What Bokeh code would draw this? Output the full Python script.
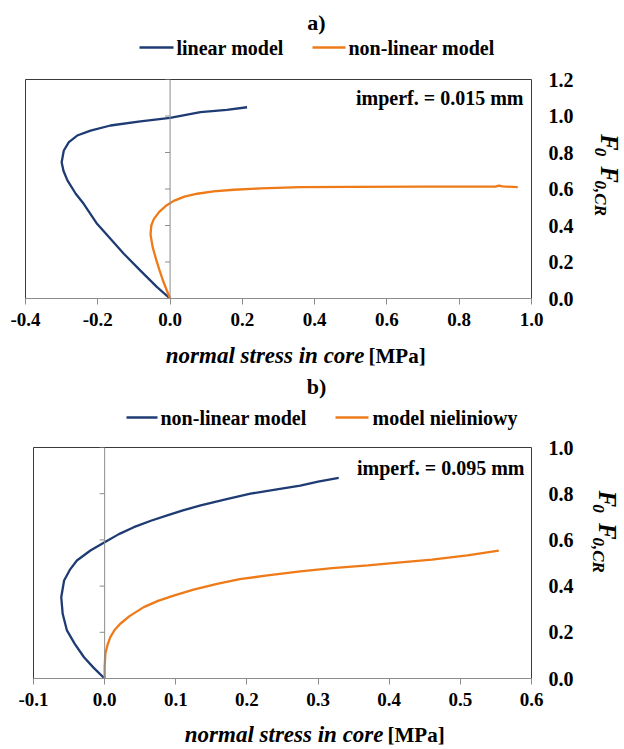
from math import pi
from bokeh.plotting import figure
from bokeh.models import Range1d, FixedTicker, NumeralTickFormatter, Span, Label
from bokeh.core.properties import value
from bokeh.layouts import column, row
from bokeh.embed import file_html
from bokeh.resources import INLINE

# ---------------- data ----------------
# panel a (imperf. = 0.015 mm)
a_lin_x = [0.0, -0.036, -0.082, -0.128, -0.165, -0.202, -0.239, -0.261, -0.284, -0.295, -0.300,
           -0.294, -0.280, -0.257, -0.220, -0.165, -0.082, 0.0, 0.084, 0.157, 0.213]
a_lin_y = [0.0, 0.062, 0.153, 0.245, 0.327, 0.409, 0.519, 0.574, 0.647, 0.700, 0.747,
           0.811, 0.857, 0.893, 0.920, 0.948, 0.970, 0.990, 1.021, 1.034, 1.048]
a_nl_x = [0.0, -0.009, -0.02, -0.03, -0.038, -0.048, -0.054, -0.052, -0.045, -0.03, -0.01, 0.01,
          0.04, 0.075, 0.12, 0.176, 0.25, 0.361, 0.5, 0.7, 0.9, 0.91, 0.92, 0.962]
a_nl_y = [0.0, 0.044, 0.1, 0.16, 0.21, 0.28, 0.35, 0.4, 0.435, 0.475, 0.51, 0.535,
          0.558, 0.574, 0.587, 0.596, 0.603, 0.61, 0.612, 0.613, 0.613, 0.619, 0.614, 0.61]
a_xticks = [-0.4, -0.2, 0.0, 0.2, 0.4, 0.6, 0.8, 1.0]
a_yticks = [0.0, 0.2, 0.4, 0.6, 0.8, 1.0, 1.2]
a_names = ["linear model", "non-linear model"]

# panel b (imperf. = 0.095 mm)
b_lin_x = [0.0, -0.015, -0.029, -0.042, -0.053, -0.059, -0.061, -0.057, -0.049, -0.039, -0.02, 0.0,
           0.02, 0.041, 0.065, 0.088, 0.11, 0.135, 0.17, 0.205, 0.24, 0.275, 0.3, 0.329]
b_lin_y = [0.0, 0.045, 0.092, 0.15, 0.208, 0.28, 0.352, 0.424, 0.47, 0.511, 0.554, 0.59,
           0.625, 0.655, 0.683, 0.706, 0.728, 0.749, 0.775, 0.8, 0.818, 0.835, 0.852, 0.869]
b_nl_x = [0.0, 0.0, 0.001, 0.004, 0.008, 0.014, 0.022, 0.035, 0.055, 0.075, 0.097, 0.125,
          0.158, 0.19, 0.229, 0.275, 0.32, 0.37, 0.416, 0.46, 0.51, 0.554]
b_nl_y = [0.0, 0.05, 0.107, 0.145, 0.179, 0.21, 0.237, 0.27, 0.309, 0.336, 0.359, 0.385,
          0.41, 0.43, 0.446, 0.464, 0.478, 0.49, 0.503, 0.515, 0.533, 0.554]
b_xticks = [-0.1, 0.0, 0.1, 0.2, 0.3, 0.4, 0.5, 0.6]
b_yticks = [0.0, 0.2, 0.4, 0.6, 0.8, 1.0]
b_names = ["non-linear model", "model nieliniowy"]

FONT = "'Liberation Serif', 'Times New Roman', serif"
BLUE = "#1F3B73"
ORANGE = "#EE7A18"
GREY = "#8C8C8C"
W = 624
MAIN_W = 590


def text_fig(w, h, gx0, gy0):
    """A figure used only as a canvas for texts; coordinates are page pixels."""
    f = figure(width=w, height=h, output_backend="svg", toolbar_location=None,
               x_range=Range1d(gx0, gx0 + w), y_range=Range1d(gy0 + h, gy0),
               x_axis_location=None, y_axis_location=None, min_border=0)
    f.grid.visible = False
    f.outline_line_color = None
    f.background_fill_color = "white"
    f.border_fill_color = "white"
    return f


def txt(f, x, y, text, size, style="bold", align="left", angle=0.0):
    f.text(x=[x], y=[y], text=[text], text_font=value(FONT), text_font_style=style,
           text_font_size=size, text_color="black", text_align=align,
           text_baseline="middle", angle=angle)


def make_panel(cfg):
    gy = cfg["gy"]             # page y of panel top
    top_h = cfg["top_h"]
    main_h = cfg["main_h"]
    xl_h = cfg["xl_h"]
    fl, fr = cfg["fl"], cfg["fr"]
    ft, fb = cfg["ft"], cfg["fb"]   # page coords of the frame
    main_top = gy + top_h
    x0, x1 = cfg["xr"]
    y0, y1 = cfg["yr"]

    # ---------- title + legend ----------
    top = text_fig(W, top_h, 0, gy)
    txt(top, 316, cfg["title_y"], cfg["title"], "22px", align="center")
    ly = cfg["leg_y"]
    for (la, lb, tx), name, col in zip(cfg["leg"], cfg["names"], [BLUE, ORANGE]):
        top.segment(x0=[la], y0=[ly], x1=[lb], y1=[ly], line_color=col, line_width=2.3)
        txt(top, tx, ly, name, "20px")

    # ---------- main plot ----------
    p = figure(width=MAIN_W, height=main_h, output_backend="svg", toolbar_location=None,
               x_range=Range1d(x0, x1), y_range=Range1d(y0, y1),
               x_axis_location="below", y_axis_location="right")
    p.min_border_left = fl
    p.min_border_right = MAIN_W - fr
    p.min_border_top = ft - main_top
    p.min_border_bottom = main_top + main_h - fb
    p.grid.visible = False
    p.outline_line_color = "#3A3A3A"
    p.outline_line_width = 1
    p.background_fill_color = "white"
    p.border_fill_color = "white"

    xa = p.xaxis[0]
    xa.ticker = FixedTicker(ticks=cfg["xticks"])
    xa.formatter = NumeralTickFormatter(format="0.0")
    xa.axis_line_color = GREY
    xa.major_tick_line_color = GREY
    xa.major_tick_out = 6
    xa.major_tick_in = 0
    xa.minor_tick_line_color = None
    xa.major_label_standoff = 8
    xa.major_label_text_font = FONT
    xa.major_label_text_font_style = "bold"
    xa.major_label_text_font_size = "19px"
    xa.major_label_text_color = "black"

    ya = p.yaxis[0]
    ya.ticker = FixedTicker(ticks=cfg["yticks"])
    ya.formatter = NumeralTickFormatter(format="0.0")
    ya.axis_line_color = None
    ya.major_tick_line_color = None
    ya.minor_tick_line_color = None
    ya.major_tick_out = 0
    ya.major_tick_in = 0
    ya.major_label_standoff = 17
    ya.major_label_text_font = FONT
    ya.major_label_text_font_style = "bold"
    ya.major_label_text_font_size = "20px"
    ya.major_label_text_color = "black"

    # vertical axis crossing at x = 0 with small ticks on its left
    p.add_layout(Span(location=0, dimension="height", line_color=GREY, line_width=1))
    tl = 5 * (x1 - x0) / (fr - fl)
    yt = [t for t in cfg["yticks"] if t > y0]
    p.segment(x0=[0] * len(yt), y0=yt, x1=[-tl] * len(yt), y1=yt, line_color=GREY, line_width=1)

    p.line(cfg["s1"][0], cfg["s1"][1], line_color=BLUE, line_width=2.3)
    p.line(cfg["s2"][0], cfg["s2"][1], line_color=ORANGE, line_width=2.3)

    # imperfection note (inside the frame)
    ix = x0 + (cfg["imp_right"] - fl) / (fr - fl) * (x1 - x0)
    iy = y0 + (fb - cfg["imp_y"]) / (fb - ft) * (y1 - y0)
    p.add_layout(Label(x=ix, y=iy, text=cfg["imp"], text_font=FONT, text_font_style="bold",
                       text_font_size="20px", text_color="black", text_align="right",
                       text_baseline="middle"))

    # ---------- right axis title (rotated, reading downwards) ----------
    rt = text_fig(W - MAIN_W, main_h, MAIN_W, main_top)
    xc, ys = cfg["rt_x"], cfg["rt_y"]
    txt(rt, xc, ys, "F", "25px", style="bold italic", angle=-pi / 2)
    txt(rt, xc - 9, ys + 17, "0", "17px", style="bold italic", angle=-pi / 2)
    txt(rt, xc, ys + 40, "F", "25px", style="bold italic", angle=-pi / 2)
    txt(rt, xc - 9, ys + 58, "0,CR", "17px", style="bold italic", angle=-pi / 2)

    # ---------- x axis title ----------
    xl = text_fig(W, xl_h, 0, main_top + main_h)
    yc = cfg["xl_y"]
    txt(xl, cfg["xl_split"], yc, "normal stress in core", "23px", style="bold italic",
        align="right")
    txt(xl, cfg["xl_split"] + 4, yc, "[MPa]", "21px")

    return column(top, row(p, rt, spacing=0), xl, spacing=0)


panel_a = make_panel(dict(gy=0, top_h=62, main_h=273, xl_h=37,
                          fl=25, fr=531, ft=79, fb=298, xr=(-0.4, 1.0), yr=(0.0, 1.2),
                          xticks=a_xticks, yticks=a_yticks,
                          s1=(a_lin_x, a_lin_y), s2=(a_nl_x, a_nl_y), names=a_names,
                          title="a)", title_y=22, leg_y=47,
                          leg=[(139, 173, 176), (312, 345, 348)],
                          imp="imperf. = 0.015 mm", imp_right=523, imp_y=97,
                          xl_split=364, xl_y=355, rt_x=609, rt_y=130))

panel_b = make_panel(dict(gy=372, top_h=58, main_h=285, xl_h=34,
                          fl=33, fr=531, ft=447, fb=678, xr=(-0.1, 0.6), yr=(0.0, 1.0),
                          xticks=b_xticks, yticks=b_yticks,
                          s1=(b_lin_x, b_lin_y), s2=(b_nl_x, b_nl_y), names=b_names,
                          title="b)", title_y=386, leg_y=417,
                          leg=[(126, 157, 160), (335, 368, 372)],
                          imp="imperf. = 0.095 mm", imp_right=524, imp_y=467,
                          xl_split=383, xl_y=734, rt_x=607, rt_y=483))

layout = column(panel_a, panel_b, spacing=0)
open("out.html", "w").write(file_html(layout, INLINE))
